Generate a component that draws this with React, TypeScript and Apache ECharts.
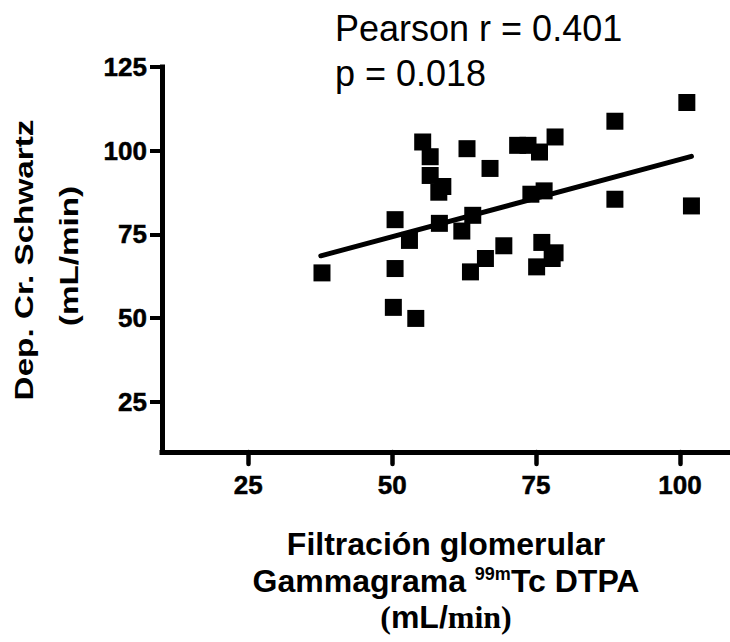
import React, { useEffect, useRef } from "react";
import * as echarts from "echarts";

// Filtración glomerular (gammagrama 99mTc DTPA), mL/min
const gfrDTPA = [
  37.8, 50.5, 50.5, 50.2, 54.1, 53.0, 55.3, 56.6, 56.6, 58.8, 58.1,
  58.2, 63.0, 62.1, 64.0, 63.6, 66.2, 67.0, 69.4, 71.8, 73.6, 75.6,
  78.3, 74.1, 76.4, 76.0, 78.3, 77.8, 75.1, 88.7, 88.7, 101.2, 102.0,
];
// Depuración de creatinina Schwartz, mL/min
const schwartz = [
  63.5, 79.4, 64.8, 53.2, 49.9, 73.2, 102.6, 98.2, 92.6, 89.3, 87.6,
  78.3, 100.6, 76.0, 80.7, 63.8, 67.8, 94.7, 71.6, 101.6, 101.6, 99.6,
  104.1, 87.0, 88.0, 72.6, 69.5, 67.8, 65.3, 108.8, 85.5, 114.4, 83.5,
];
// Regression line end points (x, y)
const fitX = [37.6, 102.0];
const fitY = [68.6, 98.3];

const xTicks = [25, 50, 75, 100];
const yTicks = [25, 50, 75, 100, 125];

const statsLines = ["Pearson r = 0.401", "p = 0.018"];
const yTitle = ["Dep. Cr. Schwartz", "(mL/min)"];

const SANS = '"Liberation Sans", Arial, sans-serif';
const SERIF = '"Liberation Serif", "Times New Roman", serif';

export default function App() {
  const ref = useRef<HTMLDivElement>(null);

  useEffect(() => {
    if (!ref.current) return;
    const chart = echarts.init(ref.current, null, { renderer: "svg" });

    const points = gfrDTPA.map((x, i) => [x, schwartz[i]]);
    const fit = fitX.map((x, i) => [x, fitY[i]]);

    const tickLabel = {
      color: "#000",
      fontSize: 26,
      fontWeight: "bold",
      fontFamily: SANS,
      textBorderColor: "#000",
      textBorderWidth: 0.5,
    };

    chart.setOption({
      animation: false,
      backgroundColor: "#fff",
      grid: {
        left: 162,
        right: 0,
        top: 67,
        bottom: 190,
        containLabel: false,
        outerBoundsMode: "none",
      },
      xAxis: {
        type: "value",
        min: 10,
        max: 108.7,
        splitLine: { show: false },
        axisLine: {
          show: true,
          lineStyle: { color: "#000", width: 5, cap: "square" },
        },
        axisTick: {
          show: true,
          customValues: xTicks,
          length: 12,
          lineStyle: { color: "#000", width: 4.5, cap: "round" },
        },
        axisLabel: { ...tickLabel, customValues: xTicks, margin: 20 },
      },
      yAxis: {
        type: "value",
        min: 10,
        max: 125,
        splitLine: { show: false },
        axisLine: {
          show: true,
          lineStyle: { color: "#000", width: 5, cap: "square" },
        },
        axisTick: {
          show: true,
          customValues: yTicks,
          length: 12,
          lineStyle: { color: "#000", width: 4 },
        },
        axisLabel: { ...tickLabel, customValues: yTicks, margin: 15 },
      },
      series: [
        {
          type: "line",
          data: fit,
          showSymbol: false,
          symbol: "none",
          lineStyle: { color: "#000", width: 5, cap: "round" },
          z: 2,
        },
        {
          type: "scatter",
          data: points,
          symbol: "rect",
          symbolSize: 17,
          itemStyle: { color: "#000", opacity: 1 },
          z: 3,
        },
      ],
      graphic: [
        {
          type: "text",
          x: 335,
          y: 28,
          style: {
            text: statsLines[0],
            fontSize: 36,
            fontFamily: SANS,
            fill: "#000",
            align: "left",
            verticalAlign: "middle",
          },
        },
        {
          type: "text",
          x: 335,
          y: 73,
          style: {
            text: statsLines[1],
            fontSize: 36,
            fontFamily: SANS,
            fill: "#000",
            align: "left",
            verticalAlign: "middle",
          },
        },
        {
          type: "text",
          x: 24.5,
          y: 260,
          rotation: Math.PI / 2,
          scaleX: 1.33,
          style: {
            text: yTitle[0],
            fontSize: 25,
            fontWeight: "bold",
            fontFamily: SANS,
            fill: "#000",
            align: "center",
            verticalAlign: "middle",
          },
        },
        {
          type: "text",
          x: 69,
          y: 256,
          rotation: Math.PI / 2,
          scaleX: 1.33,
          style: {
            text: yTitle[1],
            fontSize: 25,
            fontWeight: "bold",
            fontFamily: SANS,
            fill: "#000",
            align: "center",
            verticalAlign: "middle",
          },
        },
        {
          type: "text",
          x: 446,
          y: 544,
          style: {
            text: "Filtración glomerular",
            fontSize: 32,
            fontWeight: "bold",
            fontFamily: SANS,
            fill: "#000",
            align: "center",
            verticalAlign: "middle",
          },
        },
        {
          type: "text",
          x: 446,
          y: 580.6,
          style: {
            text: "{a|Gammagrama }{s|99m}{a|Tc DTPA}",
            align: "center",
            verticalAlign: "middle",
            fill: "#000",
            rich: {
              a: {
                fontSize: 32,
                fontWeight: "bold",
                fontFamily: SANS,
                fill: "#000",
                lineHeight: 36,
                verticalAlign: "middle",
              },
              s: {
                fontSize: 18,
                fontWeight: "bold",
                fontFamily: SANS,
                fill: "#000",
                lineHeight: 36,
                verticalAlign: "top",
                padding: [2, 0, 0, 0],
              },
            },
          },
        },
        {
          type: "text",
          x: 446,
          y: 617,
          style: {
            text: "{p|(}{a|mL/}{p|min)}",
            align: "center",
            verticalAlign: "middle",
            fill: "#000",
            rich: {
              a: {
                fontSize: 32,
                fontWeight: "bold",
                fontFamily: SANS,
                fill: "#000",
                lineHeight: 36,
              },
              p: {
                fontSize: 32,
                fontWeight: "bold",
                fontFamily: SERIF,
                fill: "#000",
                lineHeight: 36,
              },
            },
          },
        },
      ],
    });

    return () => chart.dispose();
  }, []);

  return (
    <div
      ref={ref}
      style={{ position: "fixed", left: 0, top: 0, width: 730, height: 642 }}
    />
  );
}
